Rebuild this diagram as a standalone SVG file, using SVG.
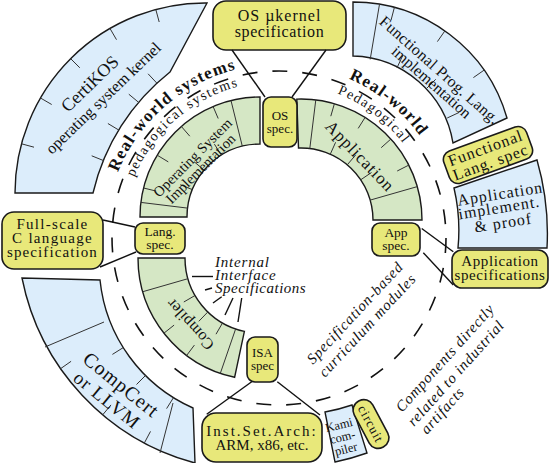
<svg xmlns="http://www.w3.org/2000/svg" width="550" height="463" viewBox="0 0 550 463">
<style>
.box{fill:#e8e87a;stroke:#1a1a1a;stroke-width:1.6}
.blue{fill:#dcedfb;stroke:#1a1a1a;stroke-width:1.4}
.green{fill:#d5e7c5;stroke:#1a1a1a;stroke-width:1.4}
.tick{stroke:#333;stroke-width:1;fill:none}
.conn{stroke:#111;stroke-width:1.4;fill:none}
.dash{stroke:#111;stroke-width:1.6;fill:none;stroke-dasharray:15 15}
text{font-family:"Liberation Serif","Times New Roman",serif;fill:#111}
.c{text-anchor:middle}
.it{font-style:italic}
</style>
<defs>
<path id="arcL1" d="M110.9,192.9 A174,174 0 0 1 257.8,65.2"/>
<path id="arcL2" d="M127.3,197.3 A157,157 0 0 1 259.9,82.2"/>
<path id="arcR1" d="M306.2,66.1 A174,174 0 0 1 441.4,175.6"/>
<path id="arcR2" d="M299.4,83.3 A156,156 0 0 1 423.1,178.3"/>
</defs>
<rect width="550" height="463" fill="#fff"/>
<g id="dashed-circle"><circle class="dash" cx="279" cy="238" r="167"/></g>

<g id="certikos">
<path class="blue" d="M15,193 A190,190 0 0 1 207,3 L170,72 A217,217 0 0 0 93,193 Z"/>
<g class="tick">
<line x1="21.5" y1="143.8" x2="34" y2="147.2"/><line x1="40.5" y1="98" x2="51.7" y2="104.5"/>
<line x1="70.6" y1="58.6" x2="79.8" y2="67.8"/><line x1="110" y1="28.5" x2="116.5" y2="39.7"/>
<line x1="155.8" y1="9.5" x2="159.2" y2="22"/>
<line x1="103.8" y1="160.7" x2="91.7" y2="155.8"/><line x1="119" y1="130.2" x2="107.9" y2="123.5"/>
<line x1="138.8" y1="102.5" x2="128.8" y2="94.2"/><line x1="157" y1="83.3" x2="148.1" y2="73.8"/>
</g>
<text class="c" font-size="18" transform="translate(94,88) rotate(-44)">CertiKOS</text>
<text class="c" font-size="16" transform="translate(107,102) rotate(-44)">operating system kernel</text>
</g>

<g id="fp-impl">
<path class="blue" d="M353,2 A160,160 0 0 1 507,118 L453,143 A104,104 0 0 0 353,56 Z"/>
<g class="tick">
<line x1="379.5" y1="4.2" x2="370.2" y2="59.4"/>
<line x1="394.4" y1="7.4" x2="391.1" y2="20"/><line x1="444.8" y1="31" x2="437.4" y2="41.6"/>
<line x1="484" y1="70.2" x2="473.4" y2="77.6"/>
<line x1="397" y1="67.8" x2="402.5" y2="56"/><line x1="426.5" y1="88.5" x2="435.7" y2="79.3"/>
<line x1="447.2" y1="118" x2="459" y2="112.5"/>
</g>
<text class="c" font-size="16" letter-spacing="0.3" transform="translate(436,74) rotate(41.5)">Functional Prog. Lang.</text>
<text class="c" font-size="16" transform="translate(428,86) rotate(41.5)">implementation</text>
</g>

<g id="compcert">
<path class="blue" d="M22,278 A240,240 0 0 0 195,463 L193,408 A157.5,157.5 0 0 1 100,280 Z"/>
<g class="tick">
<line x1="45" y1="347" x2="104" y2="322"/><line x1="160" y1="453" x2="173" y2="403"/>
<line x1="60.4" y1="368.8" x2="71.1" y2="361.3"/><line x1="102.7" y1="414.8" x2="111" y2="404.9"/>
<line x1="144.4" y1="442.9" x2="150.5" y2="431.4"/>
<line x1="123.4" y1="347.5" x2="112.4" y2="354.4"/><line x1="145.6" y1="375.4" x2="136.5" y2="384.5"/>
<line x1="173.5" y1="397.6" x2="166.6" y2="408.6"/>
</g>
<text class="c" font-size="20" letter-spacing="1" transform="translate(117,390) rotate(39)">CompCert</text>
<text class="c" font-size="19" letter-spacing="1" transform="translate(103,405) rotate(39)">or LLVM</text>
</g>

<g id="app-impl">
<path class="blue" d="M454,188 L537,160 A265,265 0 0 1 547,248 L458,248 A185,185 0 0 0 454,188 Z"/>
<text class="c" font-size="16" letter-spacing="1" transform="translate(501,199) rotate(-9)">Application</text>
<text class="c" font-size="16" letter-spacing="1" transform="translate(500,213) rotate(-9)">implement.</text>
<text class="c" font-size="16" letter-spacing="1" transform="translate(504,228) rotate(-9)">&amp; proof</text>
</g>

<g id="kami">
<path class="blue" d="M325,412 A181,181 0 0 0 352,405 L367,453 A232,232 0 0 1 335,462 Z"/>
<text class="c" font-size="12.5" transform="translate(340,429) rotate(-14)">Kami</text>
<text class="c" font-size="12.5" transform="translate(343.5,441) rotate(-14)">com-</text>
<text class="c" font-size="12.5" transform="translate(347,453) rotate(-14)">piler</text>
</g>

<g id="os-impl">
<path class="green" d="M260,97 A120,120 0 0 0 140,217 L187,217 A73,73 0 0 1 260,144 Z"/>
<g class="tick">
<line x1="231" y1="100.6" x2="242.3" y2="146.2"/><line x1="140.8" y1="202.4" x2="187.5" y2="208.1"/>
<line x1="213.1" y1="106.5" x2="218.2" y2="118.5"/><line x1="221.3" y1="155.1" x2="214.4" y2="144.1"/>
<line x1="181.3" y1="126.4" x2="189.8" y2="136.2"/><line x1="204.1" y1="170.1" x2="194.1" y2="161.7"/>
<line x1="157.2" y1="155.2" x2="168.3" y2="161.9"/><line x1="192.3" y1="189.6" x2="180.3" y2="184.7"/>
<line x1="143.6" y1="188" x2="156.2" y2="191.1"/>
</g>
<text class="c" font-size="14.5" transform="translate(196,161) rotate(-45)">Operating System</text>
<text class="c" font-size="14.5" transform="translate(204,172) rotate(-45)">Implementation</text>
</g>

<g id="application">
<path class="green" d="M422,220 A121,121 0 0 0 296.8,99.1 L298.5,148 A72,72 0 0 1 373,220 Z"/>
<g class="tick">
<line x1="315.8" y1="99.8" x2="309.8" y2="148.5"/><line x1="417.3" y1="186.6" x2="370.2" y2="200.1"/>
<line x1="334.4" y1="103.7" x2="330.8" y2="116.2"/><line x1="365.1" y1="117.4" x2="358.2" y2="128.4"/>
<line x1="390.9" y1="139" x2="381.2" y2="147.7"/><line x1="408.8" y1="165.1" x2="397.2" y2="171"/>
<line x1="330.3" y1="154.2" x2="335.6" y2="142.3"/><line x1="347.3" y1="164.8" x2="355.7" y2="154.9"/>
<line x1="360.7" y1="179.8" x2="371.5" y2="172.5"/>
</g>
<text class="c" font-size="17" letter-spacing="1" transform="translate(356,160) rotate(46)">Application</text>
</g>

<g id="compiler">
<path class="green" d="M138,258 A122,122 0 0 0 234.6,377.3 L244.4,331.4 A75,75 0 0 1 185,258 Z"/>
<g class="tick">
<line x1="142.8" y1="291.7" x2="187.9" y2="278.7"/><line x1="220.3" y1="373.4" x2="235.6" y2="329"/>
<line x1="195" y1="295.5" x2="183.8" y2="302"/><line x1="207.9" y1="311.9" x2="198.8" y2="321.3"/>
<line x1="222.5" y1="323" x2="216" y2="334.2"/>
<line x1="163.9" y1="333.2" x2="174.1" y2="325.1"/><line x1="186.6" y1="355.5" x2="194.4" y2="345.1"/>
</g>
<text class="c" font-size="16" letter-spacing="0.3" transform="translate(194,321) rotate(228)">Compiler</text>
</g>

<g id="os-kernel-spec">
<rect class="box" x="213" y="1" width="133" height="49" rx="13"/>
<text class="c" x="279.5" y="21" font-size="16" letter-spacing="1">OS µkernel</text>
<text class="c" x="279.5" y="37" font-size="16" letter-spacing="0.6">specification</text>
</g>
<g id="os-spec">
<rect class="box" x="263" y="97" width="34" height="50" rx="8"/>
<text class="c" x="280" y="120" font-size="13">OS</text>
<text class="c" x="280" y="133" font-size="13">spec.</text>
</g>
<g id="lang-spec">
<rect class="box" x="135" y="223" width="50" height="31" rx="8"/>
<text class="c" x="160" y="236" font-size="13.5">Lang.</text>
<text class="c" x="160" y="249" font-size="13.5">spec.</text>
</g>
<g id="c-spec">
<rect class="box" x="2" y="212" width="101" height="57" rx="12"/>
<text class="c" x="52.5" y="229" font-size="15" letter-spacing="1.3">Full-scale</text>
<text class="c" x="52.5" y="243" font-size="15" letter-spacing="1.3">C language</text>
<text class="c" x="52.5" y="257" font-size="15" letter-spacing="1.1">specification</text>
</g>
<g id="app-spec">
<rect class="box" x="372" y="223" width="48" height="33" rx="8"/>
<text class="c" x="396" y="237" font-size="13.5">App</text>
<text class="c" x="396" y="250" font-size="13.5">spec.</text>
</g>
<g id="app-specs">
<rect class="box" x="452" y="250" width="96" height="38" rx="10"/>
<text class="c" x="500" y="266" font-size="15" letter-spacing="0.6">Application</text>
<text class="c" x="500" y="280" font-size="15" letter-spacing="0.6">specifications</text>
</g>
<g id="func-lang-spec">
<g transform="translate(488,155) rotate(-20)">
<rect class="box" x="-44" y="-17" width="88" height="34" rx="9"/>
<text class="c" y="-2" font-size="16" letter-spacing="1">Functional</text>
<text class="c" y="13" font-size="16" letter-spacing="1">Lang. spec</text>
</g>
</g>
<g id="isa-spec">
<rect class="box" x="247" y="337" width="31" height="45" rx="8"/>
<text class="c" x="262.5" y="357" font-size="13">ISA</text>
<text class="c" x="262.5" y="369.5" font-size="13">spec</text>
</g>
<g id="isa">
<rect class="box" x="202" y="413" width="120" height="49" rx="14"/>
<text class="c" x="262" y="435.5" font-size="15" letter-spacing="2">Inst.Set.Arch:</text>
<text class="c" x="262" y="450" font-size="15">ARM, x86, etc.</text>
</g>
<g id="circuit">
<g transform="translate(371,424) rotate(62)">
<rect class="box" x="-26" y="-10.5" width="52" height="21" rx="10"/>
<text class="c" y="4.5" font-size="13" letter-spacing="1">circuit</text>
</g>
</g>

<g id="labels">
<text font-size="17" font-weight="bold" letter-spacing="1.2"><textPath href="#arcL1" startOffset="50%" text-anchor="middle">Real-world systems</textPath></text>
<text font-size="14" letter-spacing="1.5"><textPath href="#arcL2" startOffset="50%" text-anchor="middle">pedagogical systems</textPath></text>
<text font-size="17" font-weight="bold" letter-spacing="1.2"><textPath href="#arcR1" startOffset="50%" text-anchor="middle">Real-world</textPath></text>
<text font-size="14" letter-spacing="1.5"><textPath href="#arcR2" startOffset="50%" text-anchor="middle">Pedagogical</textPath></text>
<text class="it" font-size="15" letter-spacing="0.8" x="215" y="267">Internal</text>
<text class="it" font-size="15" letter-spacing="0.8" x="215" y="280">Interface</text>
<text class="it" font-size="15" letter-spacing="0.5" x="215" y="293">Specifications</text>
<text class="it" font-size="15" letter-spacing="0.8" transform="translate(313,365) rotate(-47)">Specification-based</text>
<text class="it" font-size="15" letter-spacing="0.8" transform="translate(325,378) rotate(-47)">curriculum modules</text>
<text class="it" font-size="15" letter-spacing="0.8" transform="translate(402,413) rotate(-48)">Components directly</text>
<text class="it" font-size="15" letter-spacing="0.8" transform="translate(414,427) rotate(-48)">related to industrial</text>
<text class="it" font-size="15" letter-spacing="0.8" transform="translate(427,435) rotate(-48)">artifacts</text>
</g>

<g id="connectors" class="conn">
<line x1="232" y1="50" x2="265" y2="97"/>
<line x1="326" y1="50" x2="292" y2="97"/>
<line x1="103" y1="220" x2="135" y2="227"/>
<line x1="100" y1="267" x2="136" y2="252"/>
<line x1="421.7" y1="228.5" x2="453.3" y2="251.7"/>
<line x1="423.3" y1="252.7" x2="453.3" y2="285"/>
<line x1="251.7" y1="381.7" x2="206.7" y2="414.3"/>
<line x1="277.3" y1="381.7" x2="320" y2="415"/>
<line x1="192" y1="276.5" x2="213" y2="276.5"/>
<line x1="205" y1="290" x2="212" y2="288"/>
<line x1="213" y1="303" x2="221.7" y2="296.7"/>
<line x1="225" y1="315" x2="233" y2="298"/>
<line x1="238" y1="322" x2="241.7" y2="298"/>
</g>
</svg>
